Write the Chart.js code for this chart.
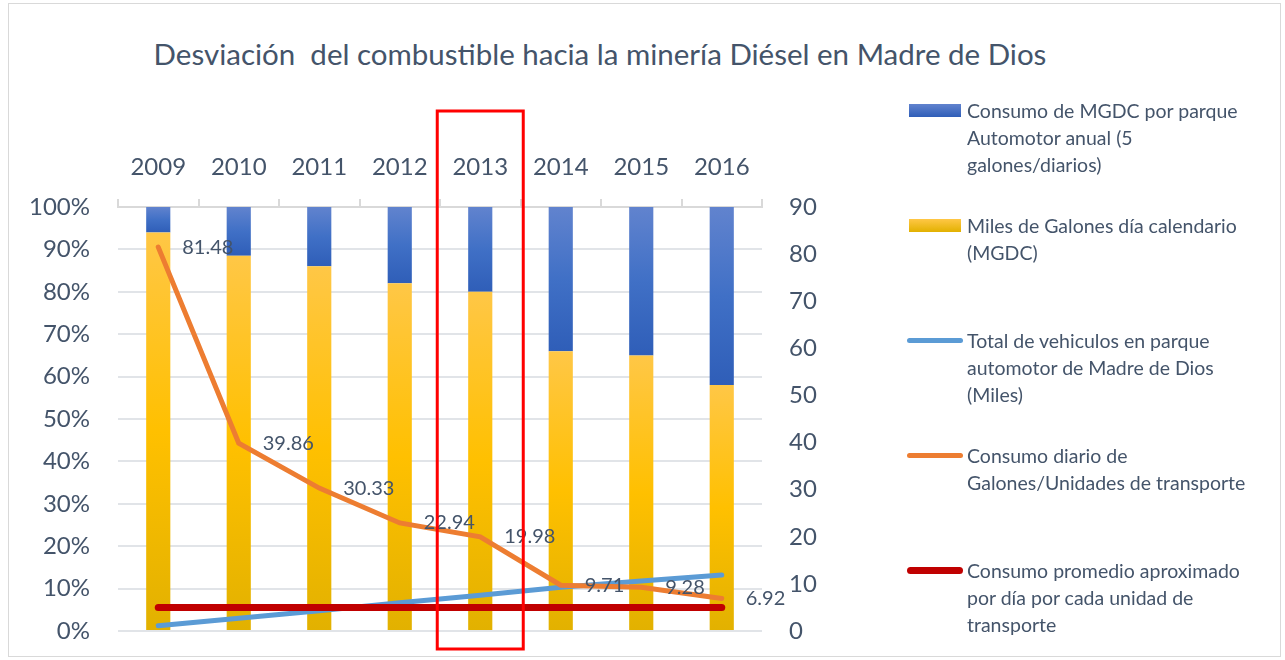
<!DOCTYPE html>
<html>
<head>
<meta charset="utf-8">
<script src="https://cdn.jsdelivr.net/npm/chart.js@4.4.1/dist/chart.umd.min.js"></script>
<style>
  body { margin: 0; background: #fff; font-family: Lato, sans-serif; }
  #wrap { position: relative; width: 1285px; height: 660px; overflow: hidden; }
  #frame { position: absolute; left: 8px; top: 3px; width: 1271px; height: 652px; border: 1px solid #D9D9D9; }
  #title { position: absolute; left: 0; top: 36px; width: 1200px; text-align: center; font-size: 29.5px; color: #44546A; }
  canvas { position: absolute; left: 0; top: 0; }
  #legend { position: absolute; left: 905px; top: 0; }
  .item { position: absolute; left: 0; width: 380px; }
  .item .txt { position: absolute; left: 62px; top: 0; font-size: 19.5px; line-height: 27px; color: #44546A; white-space: nowrap; }
  .item .sw { position: absolute; }
</style>
</head>
<body>
<div id="wrap">
  <div id="frame"></div>
  <div id="title">Desviación&nbsp; del combustible hacia la minería Diésel en Madre de Dios</div>
  <canvas id="grafico" width="1285" height="660"></canvas>
  <div id="legend"></div>
</div>
<script>
// --- Datos ---
const years = ['2009', '2010', '2011', '2012', '2013', '2014', '2015', '2016'];
const mgdcPct = [94, 88.5, 86, 82, 80, 66, 65, 58];          // Miles de Galones día calendario (% de la barra)
const parquePct = [6, 11.5, 14, 18, 20, 34, 35, 42];          // Consumo de MGDC por parque automotor (%)
const vehiculosMiles = [1.1, 2.7, 4.3, 6.0, 7.6, 9.3, 10.6, 11.9];
const consumoDiario = [81.48, 39.86, 30.33, 22.94, 19.98, 9.71, 9.28, 6.92];
const consumoPromedio = [5, 5, 5, 5, 5, 5, 5, 5];
const leftTicks = [0, 10, 20, 30, 40, 50, 60, 70, 80, 90, 100];
const rightTicks = [0, 10, 20, 30, 40, 50, 60, 70, 80, 90];
const marcado = '2013';

const legendLines = [
    ['Consumo de MGDC por parque', 'Automotor anual (5', 'galones/diarios)'],
    ['Miles de Galones día calendario', '(MGDC)'],
    ['Total de vehiculos en parque', 'automotor de Madre de Dios', '(Miles)'],
    ['Consumo diario de', 'Galones/Unidades de transporte'],
    ['Consumo promedio aproximado', 'por día por cada unidad de', 'transporte']
];

const TXT = '#44546A';
const FONT = 'Lato';

// --- Dégradés des barres (comme Excel) ---
function degradado(chart, desde, hasta, colores) {
    const area = chart.chartArea;
    if (!area || !(area.bottom > area.top)) return colores[1];
    const h = area.bottom - area.top;
    const y0 = area.bottom - desde / 100 * h;
    const y1 = area.bottom - hasta / 100 * h;
    if (!isFinite(y0) || !isFinite(y1)) return colores[1];
    const g = chart.ctx.createLinearGradient(0, y1, 0, y0);
    g.addColorStop(0, colores[0]);
    g.addColorStop(0.5, colores[1]);
    g.addColorStop(1, colores[2]);
    return g;
}

// --- Etiquetas de la serie naranja + recuadro rojo ---
const etiquetas = {
    id: 'etiquetas',
    afterDatasetsDraw(chart) {
        const ctx = chart.ctx;
        const meta = chart.getDatasetMeta(2);
        ctx.save();
        ctx.font = '20px ' + FONT;
        ctx.fillStyle = TXT;
        ctx.textBaseline = 'middle';
        meta.data.forEach((pt, i) => {
            ctx.fillText(consumoDiario[i].toFixed(2), pt.x + 24, pt.y);
        });
        const cx = chart.scales.x.getPixelForValue(years.indexOf(marcado));
        ctx.strokeStyle = '#FF0000';
        ctx.lineWidth = 3;
        ctx.strokeRect(cx - 43, 111, 86, 538);
        ctx.restore();
    }
};

// sin relleno extra arriba/abajo para que el área vaya de 207 a 631
function ajusteY(ancho) {
    return s => { s.width = ancho; s.paddingTop = 0; s.paddingBottom = 0; };
}

const ctx = document.getElementById('grafico').getContext('2d');
const grafico = new Chart(ctx, {
    type: 'bar',
    data: {
        labels: years,
        datasets: [
            {
                type: 'line', label: legendLines[4].join(' '), data: consumoPromedio, yAxisID: 'y1',
                borderColor: '#C00000', borderWidth: 7, pointRadius: 0, borderCapStyle: 'round', order: 0
            },
            {
                type: 'line', label: legendLines[2].join(' '), data: vehiculosMiles, yAxisID: 'y1',
                borderColor: '#5B9BD5', borderWidth: 5, pointRadius: 0, borderCapStyle: 'round', order: 2
            },
            {
                type: 'line', label: legendLines[3].join(' '), data: consumoDiario, yAxisID: 'y1',
                borderColor: '#ED7D31', borderWidth: 5, pointRadius: 0, borderCapStyle: 'round', order: 1
            },
            {
                label: legendLines[1].join(' '), data: mgdcPct, yAxisID: 'y', order: 5,
                backgroundColor: c => degradado(c.chart, 0, mgdcPct[c.dataIndex] || 100, ['#FFC746', '#FFC000', '#E2B100'])
            },
            {
                label: legendLines[0].join(' '), data: parquePct, yAxisID: 'y', order: 5,
                backgroundColor: c => degradado(c.chart, mgdcPct[c.dataIndex] || 0, 100, ['#6183CE', '#4070C6', '#2F5EB8'])
            }
        ]
    },
    options: {
        responsive: false,
        animation: false,
        devicePixelRatio: 1,
        layout: { padding: { left: 0, right: 423, top: 0, bottom: 29 } },
        datasets: { bar: { barPercentage: 0.3, categoryPercentage: 1 } },
        plugins: { legend: { display: false }, tooltip: { enabled: false } },
        scales: {
            x: {
                position: 'top', stacked: true,
                grid: { drawOnChartArea: false, tickLength: 8, color: '#D9D9D9', lineWidth: 2 },
                border: { color: '#D9D9D9', width: 2 },
                ticks: { color: TXT, font: { size: 24, family: FONT }, padding: 17 },
                afterFit(s) { s.height = 207; }
            },
            y: {
                position: 'left', stacked: true, min: 0, max: 100,
                grid: { color: '#E1E4E8', lineWidth: 2, drawTicks: false },
                border: { display: false },
                ticks: { color: TXT, font: { size: 24, family: FONT }, padding: 28, callback: v => v + '%' },
                afterBuildTicks(s) { s.ticks = leftTicks.map(v => ({ value: v })); },
                afterFit: ajusteY(118)
            },
            y1: {
                position: 'right', min: 0, max: 90,
                grid: { display: false, drawTicks: false },
                border: { display: false },
                ticks: { color: TXT, font: { size: 24, family: FONT }, padding: 27 },
                afterBuildTicks(s) { s.ticks = rightTicks.map(v => ({ value: v })); },
                afterFit: ajusteY(100)
            }
        }
    },
    plugins: [etiquetas]
});

// --- Leyenda HTML (texto en varias líneas) ---
const legend = document.getElementById('legend');
const ordenLeyenda = [4, 3, 1, 2, 0]; // índice del dataset para cada entrada
ordenLeyenda.forEach((dsIndex, k) => {
    const ds = grafico.data.datasets[dsIndex];
    const item = document.createElement('div');
    item.className = 'item';
    item.style.top = (97 + k * 115) + 'px';
    const sw = document.createElement('div');
    sw.className = 'sw';
    if (ds.type === 'line') {
        const h = ds.borderWidth;
        sw.style.cssText = `left:2px;width:56px;height:${h}px;top:${13.5 - h / 2}px;border-radius:${h / 2}px;background:${ds.borderColor}`;
    } else {
        const grad = k === 0 ? 'linear-gradient(#6183CE,#2F5EB8)' : 'linear-gradient(#FFC746,#E2B100)';
        sw.style.cssText = `left:4px;width:52px;height:13px;top:7px;background:${grad}`;
    }
    const txt = document.createElement('div');
    txt.className = 'txt';
    txt.innerHTML = legendLines[k].join('<br>');
    item.appendChild(sw);
    item.appendChild(txt);
    legend.appendChild(item);
});
</script>
</body>
</html>
